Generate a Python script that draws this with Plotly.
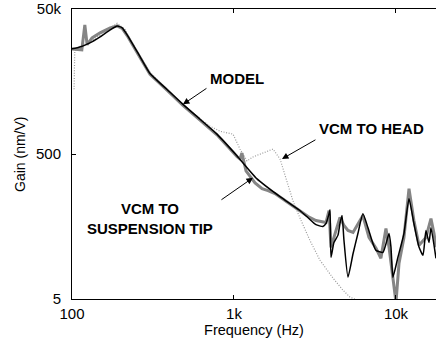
import numpy as np
import plotly.graph_objects as go

# ---- data ----
model_f = [100, 112, 129, 149, 172, 190, 204, 219, 263, 303, 386, 484, 617, 785, 1045, 1387, 1923,
           2550, 2865, 3207, 3540, 3700, 3860, 3915, 3970, 4140, 4385, 4510, 4645, 4775, 5055, 5430,
           5820, 6250, 6715, 7210, 7530, 8310, 9060, 9310, 9575, 10280, 11200, 12030, 12900, 13870,
           14680, 15310, 15990, 16440, 17650]
model_g = [14100, 15000, 17100, 20700, 25800, 29200, 27500, 22000, 11000, 6440, 3880, 2420, 1510, 940,
           470, 227, 129, 83, 66, 53, 50, 55, 75, 85, 18.8, 30, 38, 55, 71, 32, 10, 21, 40, 75, 48,
           29, 23.4, 22, 40, 26, 10, 18.8, 40, 121, 55, 26, 20, 44, 30, 48, 18.2]

tip_f = [100, 115, 120, 124, 133, 149, 172, 190, 204, 219, 263, 303, 386, 484, 617, 785, 1045, 1089,
         1119, 1186, 1349, 1490, 1622, 1791, 2064, 2550, 2865, 3207, 3700, 3860, 3970, 4265, 4510,
         4775, 5055, 5430, 5820, 6250, 6810, 7530, 8070, 8670, 9060, 10000, 10440, 11200, 12030,
         12900, 13870, 15310, 16440, 17170, 17650]
tip_g = [14000, 13700, 30200, 16100, 20000, 23500, 27500, 29200, 27000, 21500, 10700, 6300, 3800,
         2350, 1470, 920, 460, 427, 516, 293, 200, 166, 156, 142, 114, 83, 68.5, 60.4, 56.8, 82.8,
         25.8, 44.1, 66.4, 51.6, 44.1, 41.4, 55, 70.8, 35.3, 25, 18.2, 47, 25.8, 4.5, 15.6, 35.3,
         166, 60.4, 27.5, 35.3, 64.4, 40.1, 25.8]

head_f = [103, 104, 112, 129, 149, 172, 190, 213, 228, 263, 303, 386, 484, 591, 711, 820, 906, 986,
          1089, 1203, 1309, 1445, 1598, 1741, 1923, 2125, 2312, 2550, 2944, 3396, 4085, 4710, 5200,
          5800]
head_g = [3900, 13000, 15500, 17700, 22000, 27500, 31800, 26000, 19400, 11300, 6700, 3880, 2420, 1660,
          1210, 1030, 970, 940, 585, 401, 455, 500, 550, 585, 427, 213, 113, 66, 32, 17.1, 9.7, 6.6,
          5.3, 4.8]

x_ticks = [100, 1000, 10000]
x_ticktext = ["100", "1k", "10k"]
y_ticks = [5, 500, 50000]
y_ticktext = ["5", "500", "50k"]

FONT = "Arial, Liberation Sans, sans-serif"

fig = go.Figure()
fig.add_trace(go.Scatter(x=head_f, y=head_g, mode="lines",
                         line=dict(color="#9c9c9c", width=1.2, dash="1px,1.6px"), hoverinfo="skip"))
fig.add_trace(go.Scatter(x=tip_f, y=tip_g, mode="lines",
                         line=dict(color="#858585", width=3), hoverinfo="skip"))
fig.add_trace(go.Scatter(x=model_f, y=model_g, mode="lines",
                         line=dict(color="black", width=1.5, shape="spline", smoothing=0.5),
                         hoverinfo="skip"))

lg = np.log10
ann_font = dict(family=FONT, size=15, color="black")
# labels
fig.add_annotation(x=lg(1045), y=lg(5500), text="<b>MODEL</b>", showarrow=False, font=ann_font)
fig.add_annotation(x=lg(7110), y=lg(1135), text="<b>VCM TO HEAD</b>", showarrow=False, font=ann_font)
fig.add_annotation(x=lg(303), y=lg(64), text="<b>VCM TO<br>SUSPENSION TIP</b>", showarrow=False,
                   font=ann_font)
# arrows
for hx, hy, ax, ay in [(484, 2420, 25, -17), (1977, 427, 35, -20), (1309, 235, -33, 23)]:
    fig.add_annotation(x=lg(hx), y=lg(hy), text="", showarrow=True, ax=ax, ay=ay,
                       arrowhead=2, arrowsize=1.3, arrowwidth=1, arrowcolor="black")
# y-axis title
fig.add_annotation(xref="paper", yref="paper", x=-0.143, y=0.5, text="Gain (nm/V)", textangle=-90,
                   showarrow=False, xanchor="center", yanchor="middle",
                   font=dict(family=FONT, size=14, color="black"))

fig.update_layout(
    width=436, height=345,
    margin=dict(l=72, r=0, t=7, b=46),
    paper_bgcolor="white", plot_bgcolor="white",
    showlegend=False,
    font=dict(family=FONT, size=14, color="black"),
)
fig.update_xaxes(type="log", range=[2, 4.247], tickvals=x_ticks, ticktext=x_ticktext,
                 ticks="inside", ticklen=4, tickcolor="black", showline=True, linecolor="black",
                 linewidth=1, mirror="ticks", showgrid=False, zeroline=False,
                 ticklabelstandoff=1,
                 title=dict(text="Frequency (Hz)", standoff=1, font=dict(size=14.5)),
                 tickfont=dict(size=15))
fig.update_yaxes(type="log", range=[lg(5) - 0.0005, lg(50000) + 0.0005], tickvals=y_ticks,
                 ticktext=y_ticktext, ticklabelstandoff=7, ticklabeloverflow="allow",
                 ticks="inside", ticklen=4, tickcolor="black", showline=True, linecolor="black",
                 linewidth=1, mirror=False, showgrid=False, zeroline=False,
                 tickfont=dict(size=15))

fig.write_html("out.html")
